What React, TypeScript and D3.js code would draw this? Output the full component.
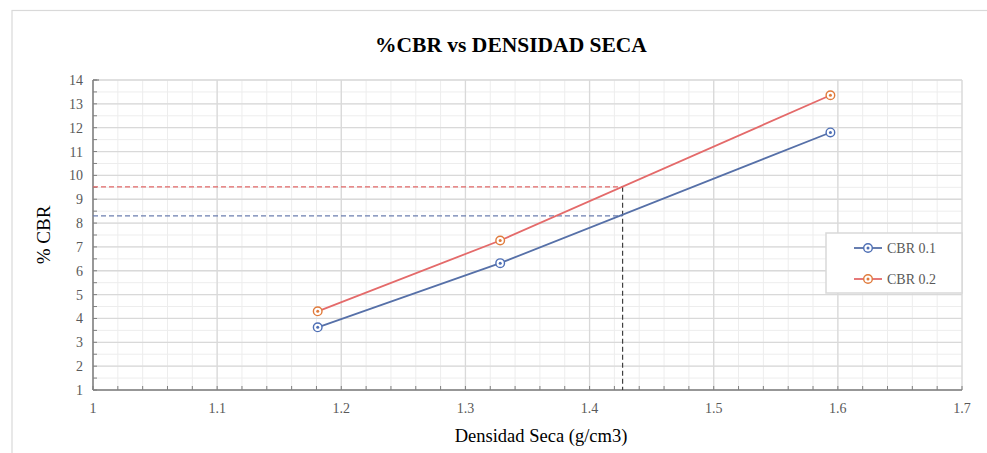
import React from "react";
import * as d3 from "d3";

const W = 987;
const H = 453;

const densidad = [1.181, 1.328, 1.594];
const cbr01 = [3.63, 6.32, 11.8];
const cbr02 = [4.3, 7.27, 13.36];
const seriesNames = ["CBR 0.1", "CBR 0.2"];
const xTicks = [1, 1.1, 1.2, 1.3, 1.4, 1.5, 1.6, 1.7];
const yTicks = [1, 2, 3, 4, 5, 6, 7, 8, 9, 10, 11, 12, 13, 14];
const targetDensidad = 1.4266;
const targetCbr01 = 8.3;
const targetCbr02 = 9.52;

const margin = { left: 93, right: 25, top: 80, bottom: 63 };

export default function App() {
  const x = d3.scaleLinear().domain([1, 1.7]).range([margin.left, W - margin.right]);
  const y = d3.scaleLinear().domain([1, 14]).range([H - margin.bottom, margin.top]);

  const minorX = d3.range(0, 36).map((i) => 1 + i * 0.02);
  const minorY = d3.range(0, 27).map((i) => 1 + i * 0.5);

  const mk = (vals: number[]) =>
    d3.line<[number, number]>().x((d) => x(d[0])).y((d) => y(d[1]))(
      vals.map((v, i) => [densidad[i], v] as [number, number])
    ) as string;

  const series = [
    { name: seriesNames[0], vals: cbr01, line: "#5670a8", marker: "#4e6fb5" },
    { name: seriesNames[1], vals: cbr02, line: "#e46a6a", marker: "#e07b3c" },
  ];

  const x0 = x(1), x1 = x(1.7), y0 = y(1), y1 = y(14);
  const font = "'Liberation Serif', 'Times New Roman', serif";

  return (
    <svg
      width={W}
      height={H}
      style={{ position: "absolute", left: 0, top: 0, background: "#fff" }}
      fontFamily={font}
    >
      <rect x={12} y={10.5} width={1000} height={500} fill="#fff" stroke="#d9d9d9" strokeWidth={1.2} />
      <text x={511} y={52} textAnchor="middle" fontSize={21.5} fontWeight="bold" fill="#000">
        %CBR vs DENSIDAD SECA
      </text>

      {/* minor grid */}
      {minorX.map((v, i) => (
        <line key={"mx" + i} x1={x(v)} x2={x(v)} y1={y0} y2={y1} stroke="#ededed" strokeWidth={1} />
      ))}
      {minorY.map((v, i) => (
        <line key={"my" + i} x1={x0} x2={x1} y1={y(v)} y2={y(v)} stroke="#ededed" strokeWidth={1} />
      ))}
      {/* major grid */}
      {xTicks.map((v) => (
        <line key={"gx" + v} x1={x(v)} x2={x(v)} y1={y0} y2={y1} stroke="#d9d9d9" strokeWidth={1.3} />
      ))}
      {yTicks.map((v) => (
        <line key={"gy" + v} x1={x0} x2={x1} y1={y(v)} y2={y(v)} stroke="#d9d9d9" strokeWidth={1.3} />
      ))}

      {/* axes */}
      <line x1={x0} x2={x0} y1={y0} y2={y1} stroke="#7f7f7f" strokeWidth={1.5} />
      <line x1={x0} x2={x1} y1={y0} y2={y0} stroke="#7f7f7f" strokeWidth={1.5} />
      {minorY.map((v, i) => (
        <line key={"ty" + i} x1={x0} x2={x0 + 4} y1={y(v)} y2={y(v)} stroke="#7f7f7f" strokeWidth={1} />
      ))}
      {minorX.map((v, i) => (
        <line key={"tx" + i} x1={x(v)} x2={x(v)} y1={y0} y2={y0 - 4} stroke="#7f7f7f" strokeWidth={1} />
      ))}
      <line x1={x0} x2={x0 + 6} y1={y1} y2={y1} stroke="#7f7f7f" strokeWidth={1.2} />

      {yTicks.map((v) => (
        <text key={"ly" + v} x={x0 - 10} y={y(v) + 5} textAnchor="end" fontSize={14} fill="#595959">
          {v}
        </text>
      ))}
      {xTicks.map((v) => (
        <text key={"lx" + v} x={x(v)} y={y0 + 23} textAnchor="middle" fontSize={14} fill="#595959">
          {d3.format("")(v)}
        </text>
      ))}

      <text x={541} y={442} textAnchor="middle" fontSize={18.5} fill="#000">
        Densidad Seca (g/cm3)
      </text>
      <text
        transform={`translate(50,${(y0 + y1) / 2}) rotate(-90)`}
        textAnchor="middle"
        fontSize={19}
        fill="#000"
      >
        % CBR
      </text>

      {/* reference dashed lines */}
      <line x1={x0} x2={x(targetDensidad)} y1={y(targetCbr02)} y2={y(targetCbr02)} stroke="#e06666" strokeWidth={1.2} strokeDasharray="5,3" />
      <line x1={x0} x2={x(targetDensidad)} y1={y(targetCbr01)} y2={y(targetCbr01)} stroke="#6c7fb0" strokeWidth={1.2} strokeDasharray="5,3" />
      <line x1={x(targetDensidad)} x2={x(targetDensidad)} y1={y(targetCbr02)} y2={y0} stroke="#404040" strokeWidth={1.2} strokeDasharray="5,3" />

      {/* series */}
      {series.map((s) => (
        <g key={s.name}>
          <path d={mk(s.vals)} fill="none" stroke={s.line} strokeWidth={1.8} />
          {s.vals.map((v, i) => (
            <g key={i}>
              <circle cx={x(densidad[i])} cy={y(v)} r={4.3} fill="#fff" stroke={s.marker} strokeWidth={1.4} />
              <circle cx={x(densidad[i])} cy={y(v)} r={1.5} fill={s.marker} />
            </g>
          ))}
        </g>
      ))}

      {/* legend */}
      <rect x={826} y={233} width={136} height={60} fill="#fff" stroke="#d9d9d9" strokeWidth={1.5} />
      {series.map((s, i) => {
        const ly = 248 + i * 31;
        return (
          <g key={"lg" + s.name}>
            <line x1={854} x2={882} y1={ly} y2={ly} stroke={s.line} strokeWidth={1.8} />
            <circle cx={868} cy={ly} r={4.3} fill="#fff" stroke={s.marker} strokeWidth={1.4} />
            <circle cx={868} cy={ly} r={1.5} fill={s.marker} />
            <text x={887} y={ly + 5} fontSize={14} fill="#595959">
              {s.name}
            </text>
          </g>
        );
      })}
    </svg>
  );
}
